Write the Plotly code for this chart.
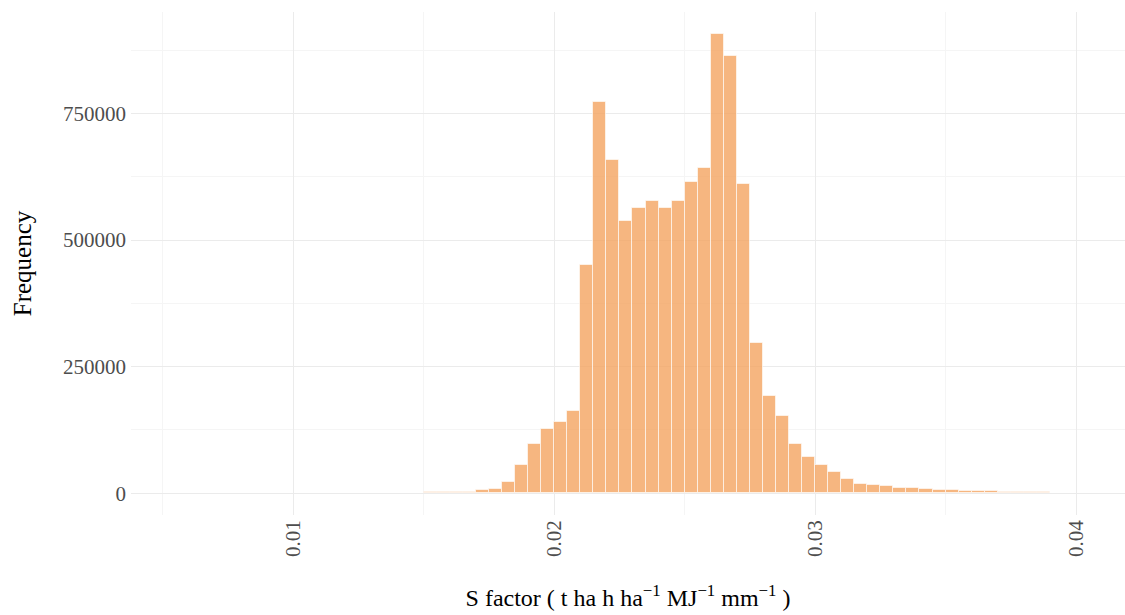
import plotly.graph_objects as go

# Histogram of S factor (bin width 0.0005)
bin_centers = [
    0.01525, 0.01575, 0.01625, 0.01675, 0.01725, 0.01775, 0.01825, 0.01875,
    0.01925, 0.01975, 0.02025, 0.02075, 0.02125, 0.02175, 0.02225, 0.02275,
    0.02325, 0.02375, 0.02425, 0.02475, 0.02525, 0.02575, 0.02625, 0.02675,
    0.02725, 0.02775, 0.02825, 0.02875, 0.02925, 0.02975, 0.03025, 0.03075,
    0.03125, 0.03175, 0.03225, 0.03275, 0.03325, 0.03375, 0.03425, 0.03475,
    0.03525, 0.03575, 0.03625, 0.03675, 0.03725, 0.03775, 0.03825, 0.03875,
]
counts = [
    2000, 2300, 2600, 3000, 5500, 9000, 21500, 55000,
    98000, 127500, 140000, 163000, 451500, 772000, 657500, 537000,
    563500, 576500, 563500, 577000, 615500, 642000, 906500, 863000,
    611000, 297000, 192800, 152800, 96800, 71700, 55300, 41500,
    28900, 19000, 15800, 14400, 11000, 9900, 8500, 7200,
    6300, 5200, 4500, 3800, 3000, 2600, 2200, 1800,
]
bin_width = 0.0005

x_ticks = [0.01, 0.02, 0.03, 0.04]
x_tick_labels = ["0.01", "0.02", "0.03", "0.04"]
y_ticks = [0, 250000, 500000, 750000]
y_tick_labels = ["0", "250000", "500000", "750000"]

fig = go.Figure()
fig.add_trace(go.Bar(
    x=bin_centers,
    y=counts,
    width=[bin_width] * len(bin_centers),
    marker=dict(color="rgba(244,164,96,0.8)",
                line=dict(color="rgba(255,255,255,0.6)", width=1)),
    showlegend=False,
    hoverinfo="x+y",
))

grid_major = "#EBEBEB"
grid_minor = "#F5F5F5"

fig.update_layout(
    width=1125, height=615,
    margin=dict(l=131, r=0, t=12, b=100),
    paper_bgcolor="white",
    plot_bgcolor="white",
    bargap=0,
    font=dict(family="Liberation Serif, Times New Roman, serif", color="#4D4D4D", size=21),
    xaxis=dict(
        range=[0.003779, 0.041878],
        tickmode="array", tickvals=x_ticks, ticktext=x_tick_labels,
        tickangle=-90,
        tickfont=dict(size=21, color="#4D4D4D"),
        showgrid=True, gridcolor=grid_major, gridwidth=1,
        minor=dict(dtick=0.005, tick0=0, showgrid=True, gridcolor=grid_minor, gridwidth=1),
        zeroline=False, showline=False, ticks="",
        title=dict(
            text="S factor ( t ha h ha<sup>−1</sup> MJ<sup>−1</sup> mm<sup>−1</sup> )",
            font=dict(size=24, color="black"),
            standoff=33,
        ),
    ),
    yaxis=dict(
        range=[-43000, 950400],
        tickmode="array", tickvals=y_ticks, ticktext=y_tick_labels,
        tickfont=dict(size=21, color="#4D4D4D"),
        showgrid=True, gridcolor=grid_major, gridwidth=1,
        minor=dict(dtick=125000, tick0=0, showgrid=True, gridcolor=grid_minor, gridwidth=1),
        zeroline=False, showline=False, ticks="",
        ticklabelstandoff=4,
        title=dict(text="Frequency", font=dict(size=25, color="black"), standoff=24),
    ),
)

fig.write_html("out.html")
